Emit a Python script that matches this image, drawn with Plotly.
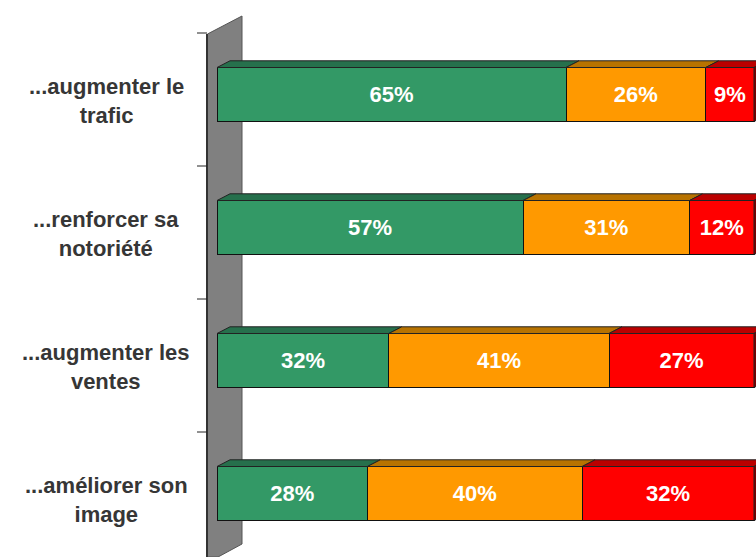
import plotly.graph_objects as go

# ---- data ----
categories = ["...augmenter le<br>trafic", "...renforcer sa<br>notoriété",
              "...augmenter les<br>ventes", "...améliorer son<br>image"]
green_vals = [65, 57, 32, 28]
orange_vals = [26, 31, 41, 40]
red_vals = [9, 12, 27, 32]

series = [
    ("green", green_vals, "#339966", "#26704C"),
    ("orange", orange_vals, "#FF9900", "#B87300"),
    ("red", red_vals, "#FF0000", "#BB0000"),
]

W, H = 756, 557
X0PX, XSCALE = 217.0, 5.37      # px of 0 % and px per %
Y0PX, YSTEP = 94.5, 133.0       # px of first category and px per category
XR = [(0 - X0PX) / XSCALE, (W - X0PX) / XSCALE]
YR = [(H - Y0PX) / YSTEP, (0 - Y0PX) / YSTEP]

def px2x(p):
    return (p - X0PX) / XSCALE

def py2y(p):
    return (p - Y0PX) / YSTEP

BW = 54 / YSTEP          # bar thickness
DX = 13 / XSCALE         # 3D depth offset
DY = 6.7 / YSTEP

ypos = list(range(len(categories)))

fig = go.Figure()

# front faces
for name, vals, col, _ in series:
    fig.add_trace(go.Bar(
        y=ypos, x=vals, orientation="h", width=BW, name=name,
        marker=dict(color=col, line=dict(color="#111111", width=1)),
        texttemplate="%{x}%", textposition="inside", insidetextanchor="middle",
        constraintext="none",
        textfont=dict(color="white", size=22, family="Arial, Liberation Sans", weight="bold"),
        hoverinfo="skip", showlegend=False,
    ))

# top faces (3D)
base = [0] * len(ypos)
for name, vals, col, topcol in series:
    xs, ys = [], []
    for i, v in enumerate(vals):
        x0 = base[i]
        x1 = x0 + v
        yt = i - BW / 2
        xs += [x0, x1, x1 + DX, x0 + DX, x0, None]
        ys += [yt, yt, yt - DY, yt - DY, yt, None]
        base[i] = x1
    fig.add_trace(go.Scatter(
        x=xs, y=ys, mode="lines", fill="toself", fillcolor=topcol,
        line=dict(color="#222222", width=1), hoverinfo="skip", showlegend=False,
    ))

# right side face of last segment
xs, ys = [], []
for i in ypos:
    yt, yb = i - BW / 2, i + BW / 2
    xe = base[i]
    xs += [xe, xe + DX, xe + DX, xe, xe, None]
    ys += [yt, yt - DY, yb - DY, yb, yt, None]
fig.add_trace(go.Scatter(
    x=xs, y=ys, mode="lines", fill="toself", fillcolor="#7A0000",
    line=dict(color="#222222", width=1), hoverinfo="skip", showlegend=False,
))

# side wall (decoration)
wall = [(207.5, 34), (242, 16), (242, 544), (218, 557), (207.5, 557)]
path = "M " + " L ".join(f"{px2x(a)},{py2y(b)}" for a, b in wall) + " Z"
shapes = [dict(type="path", path=path, xref="x", yref="y", layer="below",
               fillcolor="#808080", line=dict(color="#555555", width=1))]
shapes.append(dict(type="line", xref="x", yref="y", layer="below",
                   x0=px2x(207), x1=px2x(207), y0=py2y(34), y1=py2y(560),
                   line=dict(color="#333333", width=2)))
# tick marks at category boundaries
for i in ypos:
    yb = py2y(Y0PX + YSTEP * (i - 0.5) + 5)
    shapes.append(dict(type="line", xref="x", yref="y",
                       x0=px2x(197), x1=px2x(207), y0=yb, y1=yb,
                       line=dict(color="#222222", width=1)))

# category labels
annotations = []
for i, c in enumerate(categories):
    annotations.append(dict(
        x=106 / W, xref="paper", y=i, yref="y", yshift=-6,
        text=c, showarrow=False, align="center", xanchor="center", yanchor="middle",
        font=dict(size=22, color="#363636", family="Arial, Liberation Sans", weight="bold"),
    ))

fig.update_layout(
    width=W, height=H, barmode="stack",
    margin=dict(l=0, r=0, t=0, b=0),
    paper_bgcolor="white", plot_bgcolor="white",
    xaxis=dict(range=XR, visible=False, fixedrange=True),
    yaxis=dict(range=YR, visible=False, fixedrange=True),
    shapes=shapes, annotations=annotations,
    showlegend=False,
)

fig.write_html("out.html")
